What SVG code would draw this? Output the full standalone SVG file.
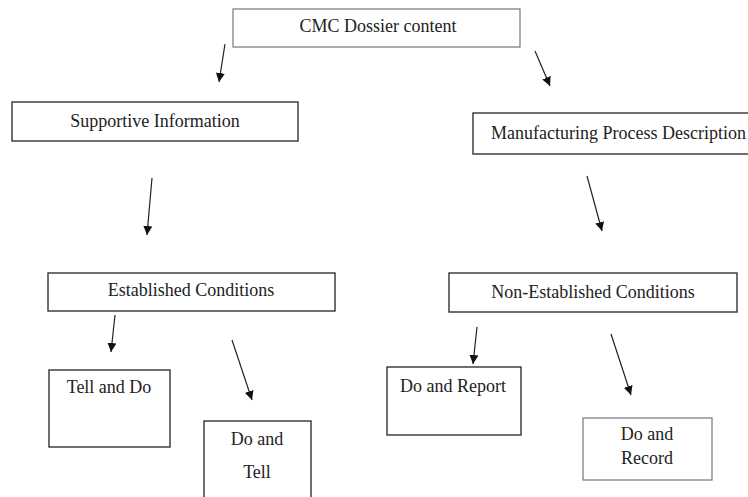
<svg xmlns="http://www.w3.org/2000/svg" width="748" height="497" viewBox="0 0 748 497">
<defs>
<style>
.box{fill:#fff;stroke:#333;stroke-width:1.4}
.lbox{fill:#fff;stroke:#777;stroke-width:1.2}
.t{font-family:"Liberation Serif","Times New Roman",serif;font-size:18px;fill:#222;text-anchor:middle}
.c{stroke:#222;stroke-width:1.2;fill:none;marker-end:url(#ah)}
</style>
<marker id="ah" markerUnits="userSpaceOnUse" markerWidth="10" markerHeight="10" viewBox="0 0 10 10" refX="9" refY="5" orient="auto">
<path d="M0,0.5 L9,5 L0,9.5 z" fill="#111"/>
</marker>
</defs>
<rect width="748" height="497" fill="#fff"/>
<g id="connectors">
<line class="c" x1="225" y1="44" x2="219" y2="82"/>
<line class="c" x1="535" y1="51" x2="550" y2="86"/>
<line class="c" x1="152" y1="178" x2="147" y2="235"/>
<line class="c" x1="587" y1="176" x2="602" y2="231"/>
<line class="c" x1="115" y1="315" x2="111" y2="352"/>
<line class="c" x1="232" y1="340" x2="252" y2="400"/>
<line class="c" x1="477" y1="327" x2="473" y2="364"/>
<line class="c" x1="611" y1="334" x2="631" y2="395"/>
</g>
<g id="cmc">
<rect class="lbox" x="233" y="9" width="287" height="38"/>
<text class="t" x="378" y="32">CMC Dossier content</text>
</g>
<g id="supportive">
<rect class="box" x="12" y="102" width="286" height="39"/>
<text class="t" x="155" y="127">Supportive Information</text>
</g>
<g id="manufacturing">
<rect class="box" x="473" y="113" width="285" height="41"/>
<text class="t" x="491" y="139" style="text-anchor:start">Manufacturing Process Description</text>
</g>
<g id="established">
<rect class="box" x="48" y="273" width="287" height="38"/>
<text class="t" x="191" y="296">Established Conditions</text>
</g>
<g id="nonestablished">
<rect class="box" x="449" y="273" width="288" height="39"/>
<text class="t" x="593" y="298">Non-Established Conditions</text>
</g>
<g id="tellanddo">
<rect class="box" x="49" y="370" width="121" height="77"/>
<text class="t" x="109" y="393">Tell and Do</text>
</g>
<g id="doandtell">
<rect class="box" x="204" y="421" width="107" height="80"/>
<text class="t" x="257" y="445">Do and</text>
<text class="t" x="257" y="478">Tell</text>
</g>
<g id="doandreport">
<rect class="box" x="387" y="367" width="134" height="68"/>
<text class="t" x="453" y="392">Do and Report</text>
</g>
<g id="doandrecord">
<rect class="lbox" x="583" y="418" width="129" height="62"/>
<text class="t" x="647" y="440">Do and</text>
<text class="t" x="647" y="464">Record</text>
</g>
</svg>
